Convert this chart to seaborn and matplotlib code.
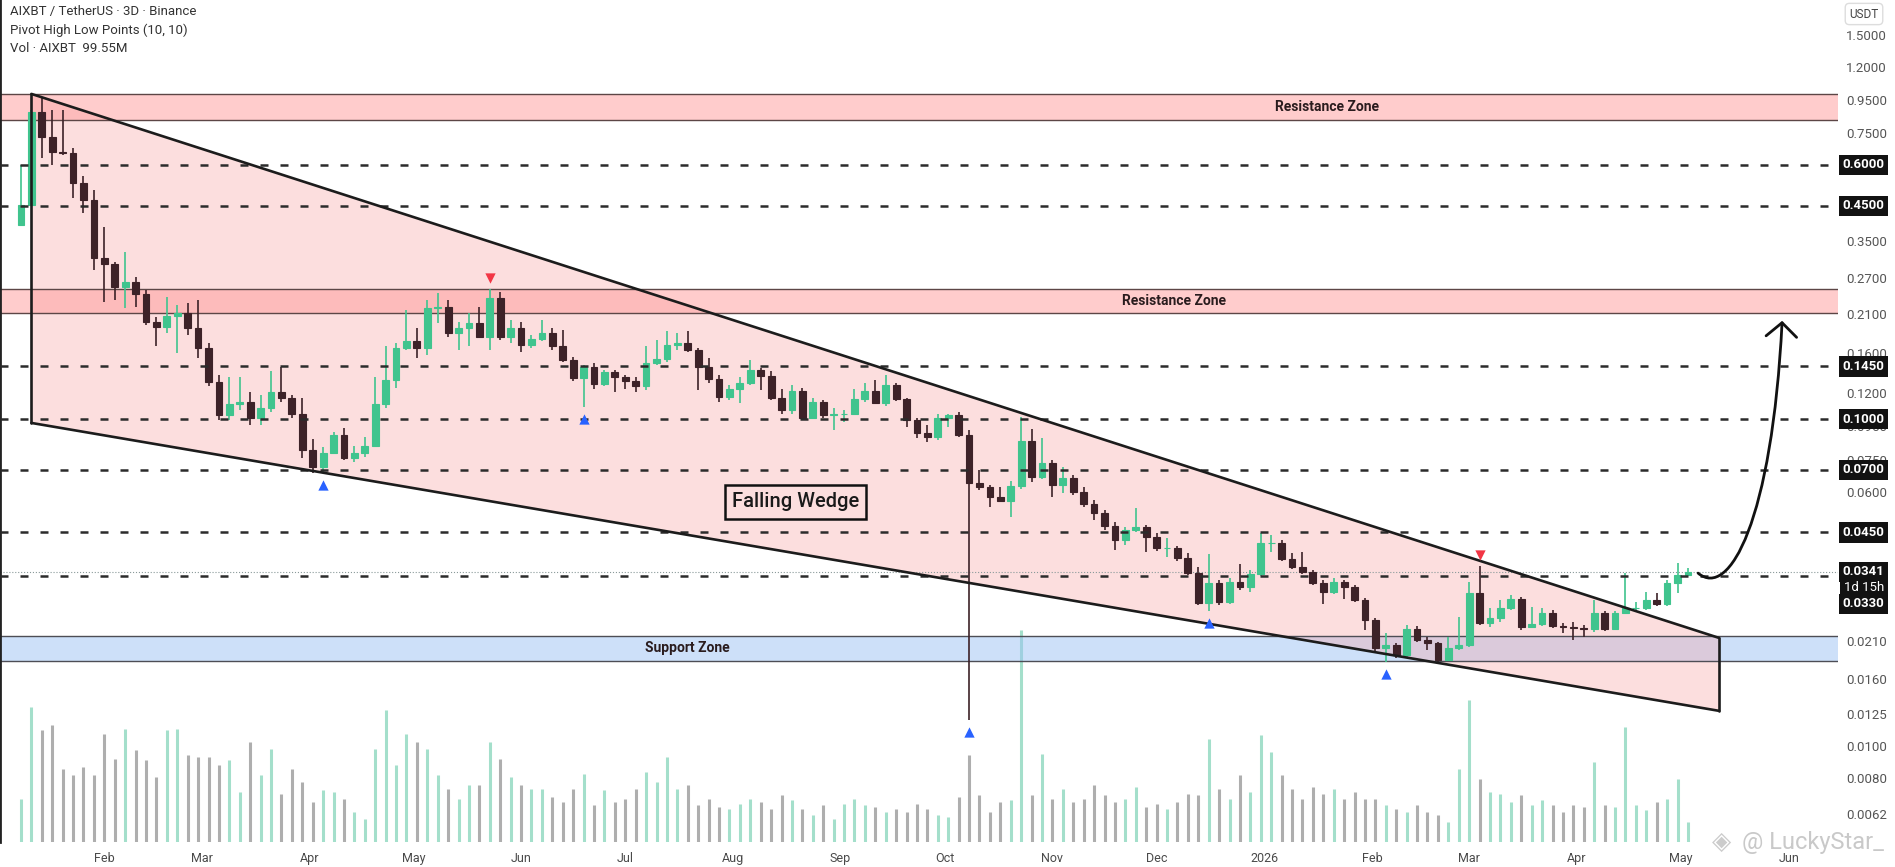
import pandas as pd
import numpy as np
import matplotlib
matplotlib.use('Agg')
import matplotlib.pyplot as plt
import matplotlib.dates as mdates
import matplotlib.transforms as mtransforms
from matplotlib.path import Path
from matplotlib.patches import FancyArrowPatch, Polygon
from matplotlib.ticker import NullLocator
import seaborn as sns

sns.set_theme(style='white')
plt.rcParams['font.family'] = ['Roboto', 'DejaVu Sans']

# ---- candle data (3D candles, AIXBT/USDT) ----
first_open = 0.393
closes = [0.453, 0.872, 0.731, 0.658, 0.654, 0.528, 0.469, 0.311, 0.298, 0.254,
          0.263, 0.242, 0.198, 0.192, 0.207, 0.211, 0.190, 0.165, 0.130, 0.103,
          0.111, 0.113, 0.101, 0.108, 0.121, 0.116, 0.104, 0.0805, 0.0714, 0.079,
          0.0895, 0.0762, 0.0787, 0.0825, 0.111, 0.132, 0.165, 0.173, 0.165, 0.219,
          0.221, 0.184, 0.190, 0.197, 0.178, 0.235, 0.178, 0.190, 0.169, 0.176,
          0.184, 0.167, 0.152, 0.134, 0.144, 0.128, 0.139, 0.135, 0.131, 0.126,
          0.149, 0.153, 0.169, 0.171, 0.163, 0.144, 0.133, 0.117, 0.124, 0.129,
          0.1415, 0.136, 0.116, 0.107, 0.122, 0.101, 0.113, 0.103, 0.104, 0.104,
          0.115, 0.122, 0.112, 0.127, 0.115, 0.0995, 0.0908, 0.0882, 0.101, 0.103,
          0.0895, 0.0638, 0.0618, 0.0576, 0.0562, 0.0625, 0.0858, 0.0666, 0.0735, 0.0630,
          0.066, 0.0598, 0.0551, 0.0516, 0.0472, 0.0427, 0.0458, 0.0468, 0.0436, 0.0404,
          0.0404, 0.0376, 0.0338, 0.0274, 0.0315, 0.0276, 0.0317, 0.0307, 0.0337, 0.0418,
          0.0418, 0.0373, 0.0353, 0.0341, 0.0315, 0.0296, 0.0317, 0.0307, 0.028, 0.0243,
          0.020, 0.0204, 0.019, 0.0228, 0.0211, 0.0207, 0.0183, 0.020, 0.0204, 0.0294,
          0.0238, 0.0246, 0.0265, 0.0282, 0.0231, 0.0236, 0.0255, 0.0232, 0.0231, 0.0229,
          0.0228, 0.0255, 0.0228, 0.0255, 0.0265, 0.0265, 0.028, 0.0272, 0.0315, 0.0334,
          0.0341]
highs = [0.60, 0.884, 0.97, 0.884, 0.884, 0.676, 0.555, 0.503, 0.387, 0.303,
         0.325, 0.273, 0.249, 0.205, 0.237, 0.224, 0.227, 0.232, 0.171, 0.137,
         0.135, 0.135, 0.121, 0.119, 0.140, 0.144, 0.119, 0.116, 0.087, 0.082,
         0.0914, 0.094, 0.0825, 0.0882, 0.135, 0.167, 0.171, 0.216, 0.190, 0.232,
         0.244, 0.232, 0.198, 0.211, 0.221, 0.25, 0.245, 0.201, 0.198, 0.181,
         0.201, 0.190, 0.188, 0.155, 0.147, 0.149, 0.1415, 0.1415, 0.137, 0.135,
         0.167, 0.175, 0.186, 0.184, 0.186, 0.165, 0.154, 0.137, 0.127, 0.135,
         0.152, 0.1435, 0.140, 0.124, 0.127, 0.125, 0.116, 0.1145, 0.108, 0.107,
         0.124, 0.129, 0.132, 0.137, 0.129, 0.116, 0.101, 0.096, 0.104, 0.104,
         0.105, 0.0927, 0.0699, 0.063, 0.062, 0.0645, 0.1017, 0.0933, 0.0876, 0.0751,
         0.0714, 0.0675, 0.0618, 0.0566, 0.0528, 0.0485, 0.0468, 0.0535, 0.0475, 0.0448,
         0.0433, 0.0410, 0.0390, 0.0353, 0.0387, 0.0322, 0.0327, 0.0361, 0.0346, 0.0448,
         0.0442, 0.0427, 0.039, 0.0393, 0.0346, 0.0322, 0.0327, 0.0322, 0.0311, 0.0284,
         0.0246, 0.0221, 0.0207, 0.0234, 0.0232, 0.0216, 0.0208, 0.0216, 0.0248, 0.0318,
         0.0355, 0.0265, 0.028, 0.029, 0.0286, 0.0266, 0.0265, 0.0261, 0.0238, 0.0240,
         0.0234, 0.028, 0.0259, 0.0259, 0.0338, 0.0276, 0.0296, 0.0294, 0.0322, 0.0364,
         0.0350]
lows = [0.39, 0.45, 0.63, 0.60, 0.645, 0.476, 0.428, 0.286, 0.229, 0.232,
        0.219, 0.221, 0.194, 0.167, 0.184, 0.159, 0.181, 0.154, 0.126, 0.0995,
        0.0995, 0.107, 0.096, 0.096, 0.105, 0.113, 0.101, 0.0762, 0.0685, 0.0685,
        0.078, 0.0751, 0.074, 0.0768, 0.082, 0.108, 0.125, 0.163, 0.154, 0.157,
        0.197, 0.178, 0.163, 0.167, 0.177, 0.163, 0.175, 0.171, 0.161, 0.165,
        0.174, 0.163, 0.150, 0.131, 0.109, 0.124, 0.126, 0.121, 0.124, 0.121,
        0.123, 0.146, 0.150, 0.163, 0.161, 0.123, 0.129, 0.113, 0.1145, 0.112,
        0.127, 0.123, 0.1145, 0.104, 0.104, 0.100, 0.100, 0.101, 0.0927, 0.098,
        0.104, 0.113, 0.111, 0.110, 0.114, 0.0946, 0.0876, 0.0852, 0.0864, 0.0946,
        0.0882, 0.012, 0.0607, 0.054, 0.0558, 0.0503, 0.061, 0.0643, 0.0656, 0.0576,
        0.0594, 0.0585, 0.054, 0.0492, 0.0458, 0.0398, 0.0412, 0.0452, 0.0393, 0.0395,
        0.0379, 0.0368, 0.0334, 0.027, 0.0259, 0.027, 0.0272, 0.030, 0.0296, 0.0331,
        0.0393, 0.0368, 0.0349, 0.0337, 0.0311, 0.0272, 0.0292, 0.0282, 0.0276, 0.0226,
        0.0194, 0.0181, 0.0186, 0.0186, 0.0208, 0.0197, 0.0181, 0.0183, 0.0197, 0.0201,
        0.0234, 0.0231, 0.0240, 0.0261, 0.0226, 0.0229, 0.0232, 0.0229, 0.0222, 0.0211,
        0.0216, 0.0223, 0.0225, 0.0226, 0.0254, 0.0257, 0.0261, 0.0268, 0.0268, 0.0294,
        0.0331]
# volume in millions
volumes = [215, 675, 560, 585, 365, 335, 375, 335, 540, 415,
           565, 460, 410, 325, 560, 565, 435, 425, 425, 385,
           410, 250, 500, 335, 465, 240, 365, 300, 200, 260,
           250, 215, 150, 115, 465, 660, 385, 540, 500, 465,
           335, 265, 215, 285, 285, 500, 415, 325, 285, 265,
           265, 225, 200, 265, 340, 185, 260, 200, 215, 265,
           350, 300, 425, 265, 285, 185, 215, 175, 165, 190,
           215, 200, 165, 235, 210, 165, 135, 185, 115, 190,
           215, 185, 175, 150, 165, 150, 190, 165, 135, 125,
           225, 435, 235, 150, 200, 210, 1055, 235, 440, 215,
           265, 200, 215, 285, 235, 200, 215, 275, 175, 190,
           165, 200, 240, 235, 515, 265, 215, 335, 250, 535,
           450, 335, 265, 215, 275, 240, 265, 215, 250, 215,
           215, 185, 165, 150, 185, 150, 135, 100, 365, 710,
           315, 250, 240, 200, 235, 185, 210, 185, 150, 185,
           175, 400, 185, 175, 575, 185, 160, 200, 215, 315,
           99.55]

pivot_high_idx = [45, 140]
pivot_low_idx = [29, 54, 91, 114, 131]

# drawn levels
dashed_levels = [0.6, 0.45, 0.145, 0.1, 0.07, 0.045, 0.033]
boxed_levels = [0.6, 0.45, 0.145, 0.1, 0.07, 0.045]
resistance_zones = [(0.824, 0.99), (0.211, 0.25)]
support_zone = (0.0182, 0.0217)
last_price = 0.0341
price_ticks = [1.5, 1.2, 0.95, 0.75, 0.35, 0.27, 0.21, 0.16, 0.12, 0.095, 0.075,
               0.06, 0.021, 0.016, 0.0125, 0.01, 0.008, 0.0062]

# falling wedge
wedge_dates = ['2025-01-11 00:00', '2026-05-12 00:00']
wedge_upper = [0.99, 0.0214]
wedge_lower = [0.0974, 0.0128]

# projected move arrow (bezier control points)
arrow_dates = ['2026-05-05 22:00', '2026-05-15 00:00', '2026-05-27 05:00', '2026-05-30 03:00']
arrow_prices = [0.0338, 0.028, 0.0492, 0.20]

dates = pd.date_range('2025-01-08', periods=len(closes), freq='3D')
opens = [first_open] + closes[:-1]
df = pd.DataFrame({'date': dates, 'open': opens, 'high': highs, 'low': lows,
                   'close': closes, 'volume': volumes})
df['up'] = df['close'] >= df['open']
x = mdates.date2num(df['date'])

W, H = 1895, 867
fig = plt.figure(figsize=(W / 100, H / 100), dpi=100)
fig.patch.set_facecolor('white')
ax = fig.add_axes([0, 25 / H, 1838 / W, 842 / H])
axv = ax.twinx()
ax.set_zorder(2)
ax.patch.set_visible(False)
axv.set_zorder(1)

# volume
vol_colors = np.where(df['up'], '#a4dfcb', '#aeaeae')
axv.vlines(x, 0, df['volume'], colors=vol_colors, lw=2.2)
axv.set_ylim(0, 4200)
axv.set_yticks([])
axv.set_ylabel('')
for s in axv.spines.values():
    s.set_visible(False)

ax.set_yscale('log')
ax.set_ylim(0.00508, 1.919)
ax.set_xlim(mdates.date2num(pd.Timestamp('2025-01-01 23:00')),
            mdates.date2num(pd.Timestamp('2026-06-15 05:00')))

# zones
sup_lo, sup_hi = support_zone
ax.axhspan(sup_lo, sup_hi, color='#9cc3f4', alpha=0.5, lw=0, zorder=0.8)
for lvl in support_zone:
    ax.axhline(lvl, color='#4d4d55', lw=1.0, zorder=1.5)
for lo, hi in resistance_zones:
    ax.axhspan(lo, hi, color='#ff9a9a', alpha=0.5, lw=0, zorder=1.2)
    ax.axhline(lo, color='#5c4646', lw=1.0, zorder=1.5)
    ax.axhline(hi, color='#5c4646', lw=1.0, zorder=1.5)

# wedge
wx = mdates.date2num(pd.to_datetime(wedge_dates))
poly = Polygon([(wx[0], wedge_upper[0]), (wx[1], wedge_upper[1]),
                (wx[1], wedge_lower[1]), (wx[0], wedge_lower[0])],
               closed=True, fc='#f7a3a3', alpha=0.35, ec='none', zorder=1)
ax.add_patch(poly)
ax.plot(wx, wedge_upper, color='#1c1c1c', lw=1.9, zorder=5)
ax.plot(wx, wedge_lower, color='#1c1c1c', lw=1.9, zorder=5)
ax.plot([wx[0], wx[0]], [wedge_upper[0], wedge_lower[0]], color='#1c1c1c', lw=1.9, zorder=5)
ax.plot([wx[1], wx[1]], [wedge_upper[1], wedge_lower[1]], color='#1c1c1c', lw=1.9, zorder=5)

# dashed levels
for lvl in dashed_levels:
    ax.axhline(lvl, color='#2b2b2b', lw=1.8, ls=(0, (3.2, 4.8)), zorder=4)
ax.axhline(last_price, color='#8a9a9a', lw=0.8, ls=':', zorder=2)

# candles
up_col, dn_col = '#40c48e', '#3d2228'
colors = np.where(df['up'], up_col, dn_col)
ax.vlines(x, df['low'], df['high'], colors=colors, lw=1.2, zorder=3)
body_bottom = np.minimum(df['open'], df['close'])
body_h = np.abs(df['close'] - df['open'])
ax.bar(x, body_h, bottom=body_bottom, width=1.95, color=colors,
       edgecolor=colors, linewidth=0.8, zorder=3)

# pivot markers
ph = df.iloc[pivot_high_idx]
pl = df.iloc[pivot_low_idx]
sns.scatterplot(x=mdates.date2num(ph['date']), y=ph['high'] * 1.08, marker='v',
                color='#f23645', s=55, linewidth=0, ax=ax, zorder=6)
sns.scatterplot(x=mdates.date2num(pl['date']), y=pl['low'] * 0.92, marker='^',
                color='#2962ff', s=55, linewidth=0, ax=ax, zorder=6)
ax.set_xlabel('')
ax.set_ylabel('')

# labels on chart
zone_kw = dict(ha='center', va='center', fontsize=10, fontweight='bold', color='#2a1c1e', zorder=6)
ax.text(pd.Timestamp('2026-01-19'), np.sqrt(0.824 * 0.99), 'Resistance Zone', **zone_kw)
ax.text(pd.Timestamp('2025-12-06'), np.sqrt(0.211 * 0.25), 'Resistance Zone', **zone_kw)
ax.text(pd.Timestamp('2025-07-19'), np.sqrt(sup_lo * sup_hi), 'Support Zone', **zone_kw)
ax.text(pd.Timestamp('2025-08-19'), 0.0558, 'Falling Wedge', ha='center', va='center',
        fontsize=14.5, fontweight='medium', color='#1a1a1a', zorder=6,
        bbox=dict(boxstyle='square,pad=0.35', fc='none', ec='#111', lw=1.8))

# projected move arrow
ax_pts = np.column_stack([mdates.date2num(pd.to_datetime(arrow_dates)), arrow_prices])
arrow_path = Path(ax_pts, [Path.MOVETO, Path.CURVE4, Path.CURVE4, Path.CURVE4])
arrow = FancyArrowPatch(path=arrow_path, arrowstyle='->,head_length=0.5,head_width=0.55',
                        mutation_scale=20, color='#111', lw=2.0, zorder=7)
ax.add_patch(arrow)

# axes styling
for name, s in ax.spines.items():
    s.set_visible(name == 'left')
ax.spines['left'].set_color('#222')
ax.spines['left'].set_linewidth(2)

month_ticks = pd.date_range('2025-02-01', '2026-06-01', freq='MS')
month_labels = ['2026' if d.month == 1 else d.strftime('%b') for d in month_ticks]
ax.set_xticks(mdates.date2num(month_ticks))
ax.set_xticklabels(month_labels)
ax.tick_params(axis='x', length=0, pad=7, labelsize=9, labelcolor='#4a4a4a')

ax.yaxis.tick_right()
ax.set_yticks(price_ticks)
ax.set_yticklabels([f'{t:.4f}' for t in price_ticks])
ax.yaxis.set_minor_locator(NullLocator())
ax.tick_params(axis='y', length=0, pad=6, labelsize=9.5, labelcolor='#555')
ax.grid(False)

trans = mtransforms.blended_transform_factory(ax.transAxes, ax.transData)
box = dict(boxstyle='square,pad=0.28', fc='#121212', ec='none')
for lvl in boxed_levels:
    ax.text(1.0025, lvl, f'{lvl:.4f}', transform=trans, ha='left', va='center',
            fontsize=9.5, color='white', fontweight='bold', bbox=box, zorder=10, clip_on=False)
ax.text(1.0025, last_price, f'{last_price:.4f}', transform=trans, ha='left', va='center',
        fontsize=9.5, color='white', fontweight='bold', bbox=box, zorder=10, clip_on=False)
ax.annotate('1d 15h', xy=(1.0025, last_price), xycoords=trans, xytext=(1, -11),
            textcoords='offset points', ha='left', va='center', fontsize=9.5, color='white',
            bbox=box, zorder=10, annotation_clip=False)
ax.annotate('0.0330', xy=(1.0025, last_price), xycoords=trans, xytext=(0, -23),
            textcoords='offset points', ha='left', va='center', fontsize=9.5, color='white',
            fontweight='bold', bbox=box, zorder=10, annotation_clip=False)

fig.text(1864 / W, 1 - 14 / H, 'USDT', ha='center', va='center', fontsize=8.5, color='#444',
         bbox=dict(boxstyle='round,pad=0.35', fc='white', ec='#dddddd'))

# header
fig.text(10 / W, 1 - 12 / H, 'AIXBT / TetherUS · 3D · Binance', fontsize=9.5, color='#333', va='center')
fig.text(10 / W, 1 - 30 / H, 'Pivot High Low Points (10, 10)', fontsize=9.5, color='#333', va='center')
fig.text(10 / W, 1 - 48 / H, 'Vol · AIXBT  99.55M', fontsize=9.5, color='#333', va='center')

# watermark
fig.text(1722 / W, 1 - 842 / H, '◈', fontsize=18, color='#cccccc', ha='center', va='center',
         family=['DejaVu Sans'])
fig.text(1742 / W, 1 - 842 / H, '@ LuckyStar_', fontsize=17, color='#c9c9c9', ha='left', va='center')

fig.savefig('out.png', dpi=100, facecolor='white')
